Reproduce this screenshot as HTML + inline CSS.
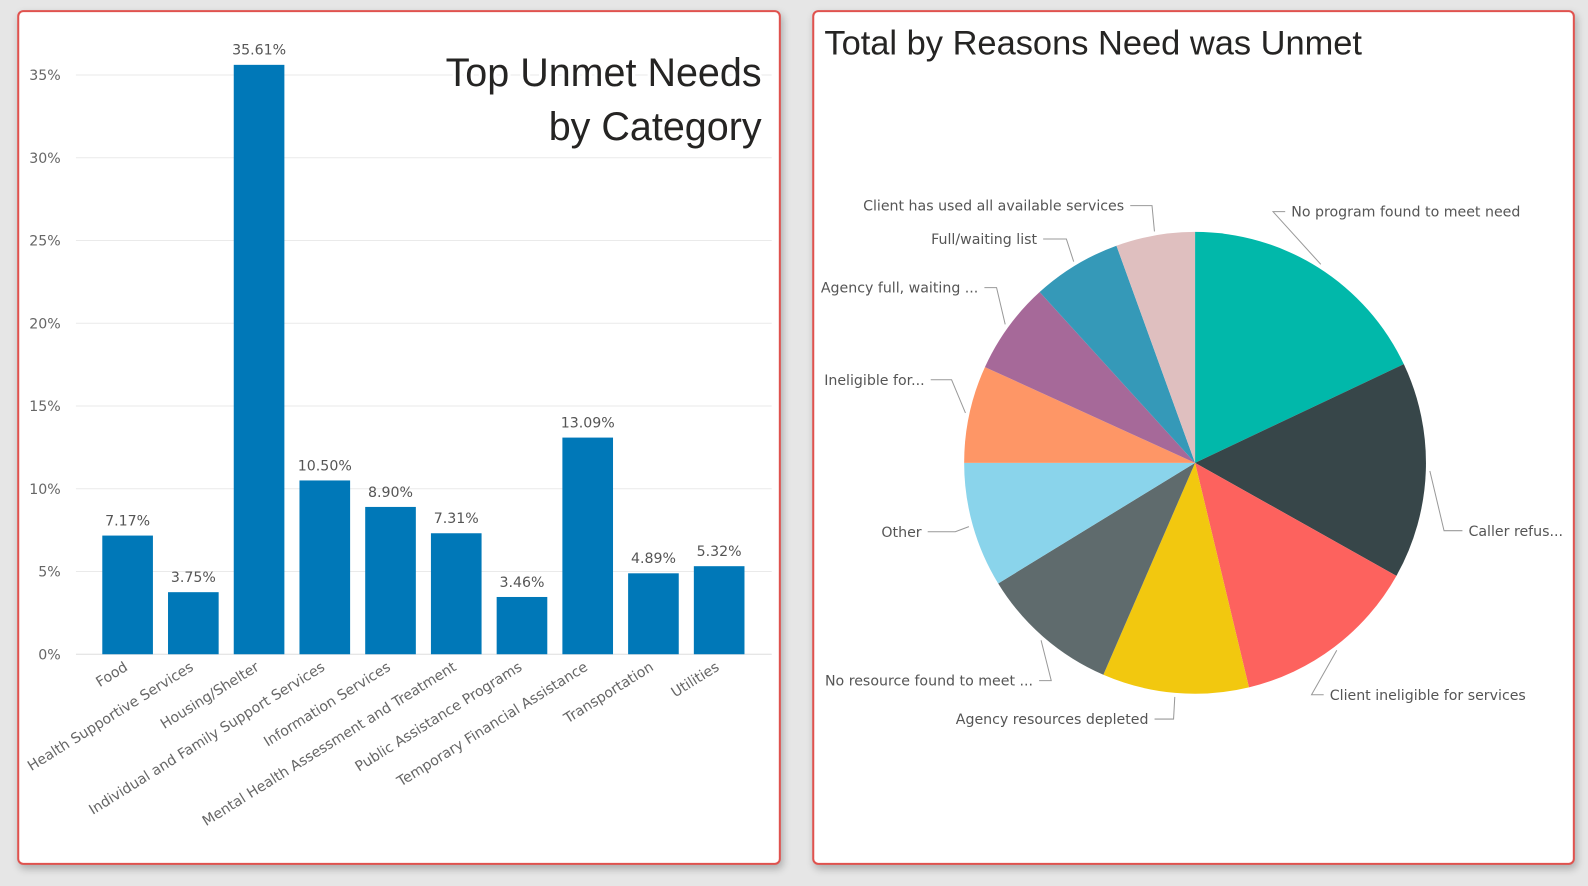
<!DOCTYPE html>
<html><head><meta charset="utf-8"><style>
body{margin:0;width:1588px;height:886px;background:#e6e6e6;overflow:hidden;font-family:"Liberation Sans","DejaVu Sans",sans-serif}
#wrap{position:absolute;left:0;top:0;width:1568px;height:875px;transform:scale(1.01276);transform-origin:0 0}
.card{position:absolute;background:#fff;border:2px solid #e0524e;border-radius:6px;box-shadow:2px 4px 8px rgba(0,0,0,.25)}
svg text{font-family:"DejaVu Sans","Liberation Sans",sans-serif}
</style></head><body>
<div id="wrap">
<div class="card" style="left:17px;top:10px;width:750px;height:840px"></div>
<div class="card" style="left:802px;top:10px;width:749px;height:840px"></div>
<svg width="1568" height="875" style="position:absolute;left:0;top:0" id="svg">
<g id="bars"></g><g id="pie"></g>
<text x="752" y="85" font-size="39" text-anchor="end" fill="#252423" stroke="#fff" stroke-width="6" paint-order="stroke" style="font-family:'Liberation Sans',sans-serif">Top Unmet Needs</text>
<text x="752" y="138" font-size="39" text-anchor="end" fill="#252423" style="font-family:'Liberation Sans',sans-serif">by Category</text>
<text x="814" y="54" font-size="34" fill="#252423" style="font-family:'Liberation Sans',sans-serif">Total by Reasons Need was Unmet</text>
</svg>
</div>
<script>
const categories=["Food","Health Supportive Services","Housing/Shelter","Individual and Family Support Services","Information Services","Mental Health Assessment and Treatment","Public Assistance Programs","Temporary Financial Assistance","Transportation","Utilities"];
const values=[7.17,3.75,35.61,10.50,8.90,7.31,3.46,13.09,4.89,5.32];
const yTicks=[0,5,10,15,20,25,30,35];
const pieLabels=["No program found to meet need","Caller refus...","Client ineligible for services","Agency resources depleted","No resource found to meet ...","Other","Ineligible for...","Agency full, waiting ...","Full/waiting list","Client has used all available services"];
const pieValues=[64.7,54.6,47.2,36.9,35.1,31.5,24.5,23.2,22.4,19.9];
const pieColors=["#01B8AA","#374649","#FD625E","#F2C80F","#5F6B6D","#8AD4EB","#FE9666","#A66999","#3599B8","#DFBFBF"];
const NS="http://www.w3.org/2000/svg";
function mk(t,a,p){const e=document.createElementNS(NS,t);for(const k in a)e.setAttribute(k,a[k]);p.appendChild(e);return e;}
const y0=646,pxPer=572/35;
const y=v=>y0-v*pxPer;
const x=i=>126+i*64.9;
const bars=document.getElementById('bars');
yTicks.forEach(t=>{
 const l=mk('line',{x1:75,x2:762,y1:y(t),y2:y(t),stroke:t?'#eaeaea':'#ddd','stroke-width':1},bars);
 
 
 const tx=mk('text',{x:60,y:y(t)+5,'font-size':14,'text-anchor':'end',fill:'#666'},bars);
 tx.textContent=t+'%';
 
 
});
values.forEach((v,i)=>{
 const r=mk('rect',{x:x(i)-25,y:y(v),width:50,height:y0-y(v),fill:'#0078B8'},bars);
 
 
 const lb=mk('text',{x:x(i),y:y(v)-10,'font-size':14,'text-anchor':'middle',fill:'#555'},bars);
 lb.textContent=v.toFixed(2)+'%';
 
 
 const c=mk('text',{x:x(i)+1,y:y0+15,'font-size':14,'text-anchor':'end',fill:'#666',transform:`rotate(-32 ${x(i)+1} ${y0+15})`},bars);
 c.textContent=categories[i];
 
 
});
const pie=document.getElementById('pie');
const cx=1180,cy=457,R=228;
const total=pieValues.reduce((a,b)=>a+b,0);
const pt=(a,r)=>[cx+r*Math.sin(a),cy-r*Math.cos(a)];
const labelPos=[[1275,214,'start'],[1450,529,'start'],[1313,691,'start'],[1134,715,'end'],[1020,677,'end'],[910,530,'end'],[913,380,'end'],[966,289,'end'],[1024,241,'end'],[1110,208,'end']];
let acc=0;
pieValues.forEach((v,i)=>{
 const a0=acc/total*2*Math.PI;acc+=v;const a1=acc/total*2*Math.PI;
 const [x0,y0p]=pt(a0,R),[x1,y1]=pt(a1,R);
 const p=mk('path',{d:`M${cx},${cy}L${x0},${y0p}A${R},${R} 0 ${a1-a0>Math.PI?1:0} 1 ${x1},${y1}Z`,fill:pieColors[i]},pie);
 
 
 const am=(a0+a1)/2;const [sx,sy]=pt(am,R+4);const [ex]=pt(am,R+18);
 const [lx,ly,anc]=labelPos[i];
 const ty=ly-5;
 const hx=anc==='start'?lx-6:lx+6;
 const mx=anc==='start'?Math.min(ex,hx-12):Math.max(ex,hx+12);
 const ln=mk('polyline',{points:`${sx},${sy} ${mx},${ty} ${hx},${ty}`,fill:'none',stroke:'#999','stroke-width':1},pie);
 
 
 const t=mk('text',{x:lx,y:ly,'font-size':14,'text-anchor':anc,fill:'#555'},pie);
 t.textContent=pieLabels[i];
 
 
});
</script>
</body></html>
